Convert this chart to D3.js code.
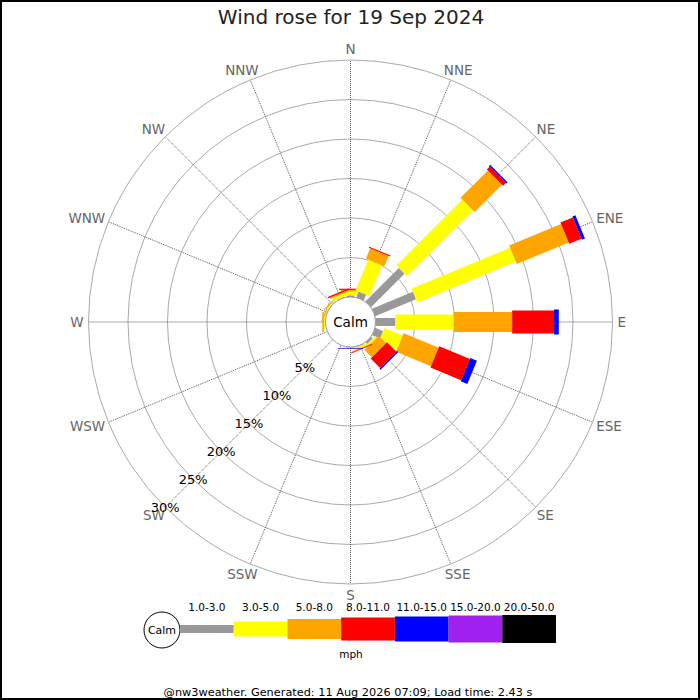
<!DOCTYPE html>
<html>
	<head>
		<title>Wind rose</title>
		<style type="text/css">
			body {
				margin: 0px;
				background-color: #fff;
			}
			text {
				font-family: "DejaVu Sans", Verdana, sans-serif;
			}
		</style>
		<script src="https://cdn.jsdelivr.net/npm/d3@7/dist/d3.min.js" charset="utf-8"></script>
	</head>
	<body>
		<script type="text/javascript">
			var directions = ["N", "NNE", "NE", "ENE", "E", "ESE", "SE", "SSE", "S", "SSW", "SW", "WSW", "W", "WNW", "NW", "NNW"];
			var speedBins = ["1.0-3.0", "3.0-5.0", "5.0-8.0", "8.0-11.0", "11.0-15.0", "15.0-20.0", "20.0-50.0"];
			var binColors = ["#999999", "#ffff00", "#ffa500", "#ff0000", "#0000ff", "#a020f0", "#000000"];
			var binWidths = [8, 15, 20, 23, 25, 27, 28];
			// percent of time, per direction, one array per speed bin
			var speed1to3 = [0.2, 0.8, 6.0, 5.6, 2.5, 1.1, 0.3, 0.1, 0.05, 0, 0, 0, 0.05, 0.05, 0.05, 0.1];
			var speed3to5 = [0.5, 4.2, 11.8, 13.5, 7.4, 2.5, 0.3, 0.25, 0.05, 0, 0, 0, 0.15, 0.1, 0.15, 0.4];
			var speed5to8 = [0.2, 1.4, 4.9, 7.1, 7.4, 4.8, 1.3, 0.1, 0.05, 0, 0, 0, 0.2, 0.15, 0.15, 0.2];
			var speed8to11 = [0.15, 0.15, 0.5, 1.7, 5.3, 4.2, 1.7, 0.1, 0.02, 0, 0, 0, 0, 0, 0, 0.15];
			var speed11to15 = [0, 0, 0.2, 0.4, 0.6, 0.9, 0.2, 0, 0.08, 0, 0, 0, 0, 0, 0, 0];
			var speed15to20 = [0, 0, 0, 0, 0, 0, 0, 0, 0, 0, 0, 0, 0, 0, 0, 0];
			var speed20to50 = [0, 0, 0, 0, 0, 0, 0, 0, 0, 0, 0, 0, 0, 0, 0, 0];
			var ringTicks = [5, 10, 15, 20, 25, 30];
			var titleText = "Wind rose for 19 Sep 2024";
			var footerText = "@nw3weather. Generated: 11 Aug 2026 07:09; Load time: 2.43 s";

			var series = [speed1to3, speed3to5, speed5to8, speed8to11, speed11to15, speed15to20, speed20to50];
			var cx = 350.5, cy = 322, calmR = 25, outerR = 262;

			var svg = d3.select("body").append("svg")
				.attr("width", 700)
				.attr("height", 700);

			svg.append("rect")
				.attr("x", 1).attr("y", 1)
				.attr("width", 698).attr("height", 698)
				.style("fill", "#fff")
				.style("stroke", "#000")
				.style("stroke-width", 2);

			svg.append("text")
				.attr("x", 351).attr("y", 24)
				.attr("text-anchor", "middle")
				.style("font-size", "20px")
				.style("fill", "#222")
				.text(titleText);

			var r = d3.scaleLinear().domain([0, 30]).range([calmR, outerR]);
			var angle = d3.scaleBand().domain(directions).range([0, 360]).align(0);
			function deg(d) { return angle(d); }
			function px(a, rad) { return cx + rad * Math.sin(a * Math.PI / 180); }
			function py(a, rad) { return cy - rad * Math.cos(a * Math.PI / 180); }

			var rose = svg.append("g");

			rose.selectAll(".ring")
				.data(ringTicks)
				.enter()
					.append("circle")
					.attr("class", "ring")
					.attr("cx", cx).attr("cy", cy)
					.attr("r", function(d) { return r(d); })
					.style("fill", "none")
					.style("stroke", "#aaa")
					.style("stroke-width", 1);

			rose.selectAll(".spoke")
				.data(directions)
				.enter()
					.append("line")
					.attr("class", "spoke")
					.attr("x1", cx).attr("y1", cy)
					.attr("x2", function(d) { return px(deg(d), outerR); })
					.attr("y2", function(d) { return py(deg(d), outerR); })
					.style("stroke", "#555")
					.style("stroke-width", 1)
					.style("stroke-dasharray", "1,1");

			// labels sit just outside the rim, pushed out by half their own size
			var labelR = 267;
			rose.selectAll(".dirLabel")
				.data(directions)
				.enter()
					.append("text")
					.attr("class", "dirLabel")
					.attr("text-anchor", "middle")
					.attr("dominant-baseline", "central")
					.style("font-size", "13.5px")
					.style("fill", "#666")
					.text(function(d) { return d; })
					.each(function(d) {
						var a = deg(d) * Math.PI / 180;
						var w = this.getComputedTextLength();
						d3.select(this)
							.attr("x", px(deg(d), labelR) + Math.sin(a) * w / 2)
							.attr("y", py(deg(d), labelR) - Math.cos(a) * 6);
					});

			// stack the bins outward for every direction
			var stacked = [];
			directions.forEach(function(dir, i) {
				var base = 0;
				series.forEach(function(s, b) {
					if (s[i] > 0) {
						stacked.push({dir: dir, bin: b, p0: base, p1: base + s[i]});
					}
					base += s[i];
				});
			});

			rose.selectAll(".bar")
				.data(stacked)
				.enter()
					.append("rect")
					.attr("class", "bar")
					.attr("x", function(d) { return -binWidths[d.bin] / 2; })
					.attr("y", function(d) { return -r(d.p1); })
					.attr("width", function(d) { return binWidths[d.bin]; })
					.attr("height", function(d) { return r(d.p1) - r(d.p0); })
					.attr("transform", function(d) { return "translate(" + cx + "," + cy + ") rotate(" + deg(d.dir) + ")"; })
					.style("fill", function(d) { return binColors[d.bin]; });

			rose.append("circle")
				.attr("cx", cx).attr("cy", cy)
				.attr("r", calmR)
				.style("fill", "#fff")
				.style("stroke", "#999")
				.style("stroke-width", 1);
			rose.append("text")
				.attr("x", cx).attr("y", cy)
				.attr("text-anchor", "middle")
				.attr("dominant-baseline", "central")
				.style("font-size", "13.5px")
				.style("fill", "#000")
				.text("Calm");

			rose.selectAll(".ringLabel")
				.data(ringTicks)
				.enter()
					.append("text")
					.attr("class", "ringLabel")
					.attr("x", function(d) { return px(225, r(d)); })
					.attr("y", function(d) { return py(225, r(d)); })
					.attr("text-anchor", "middle")
					.attr("dominant-baseline", "central")
					.style("font-size", "13px")
					.style("fill", "#000")
					.text(function(d) { return d + "%"; });

			// legend
			var lx = d3.scaleBand().domain(speedBins).range([180, 556]);
			var ly = 629;
			var legend = svg.append("g");
			legend.append("circle")
				.attr("cx", 162).attr("cy", 630)
				.attr("r", 18)
				.style("fill", "#fff")
				.style("stroke", "#000")
				.style("stroke-width", 1);
			legend.append("text")
				.attr("x", 162).attr("y", 630)
				.attr("text-anchor", "middle")
				.attr("dominant-baseline", "central")
				.style("font-size", "11px")
				.text("Calm");
			legend.selectAll(".key")
				.data(speedBins)
				.enter()
					.append("rect")
					.attr("class", "key")
					.attr("x", function(d) { return lx(d); })
					.attr("y", function(d, i) { return ly - binWidths[i] / 2; })
					.attr("width", lx.bandwidth())
					.attr("height", function(d, i) { return binWidths[i]; })
					.style("fill", function(d, i) { return binColors[i]; });
			legend.selectAll(".keyLabel")
				.data(speedBins)
				.enter()
					.append("text")
					.attr("class", "keyLabel")
					.attr("x", function(d) { return lx(d) + lx.bandwidth() / 2; })
					.attr("y", 611)
					.attr("text-anchor", "middle")
					.style("font-size", "10.5px")
					.text(function(d) { return d; });
			legend.append("text")
				.attr("x", 351).attr("y", 658)
				.attr("text-anchor", "middle")
				.style("font-size", "10.5px")
				.text("mph");

			svg.append("text")
				.attr("x", 348).attr("y", 696)
				.attr("text-anchor", "middle")
				.style("font-size", "11.3px")
				.style("fill", "#000")
				.text(footerText);
		</script>
	</body>
</html>
